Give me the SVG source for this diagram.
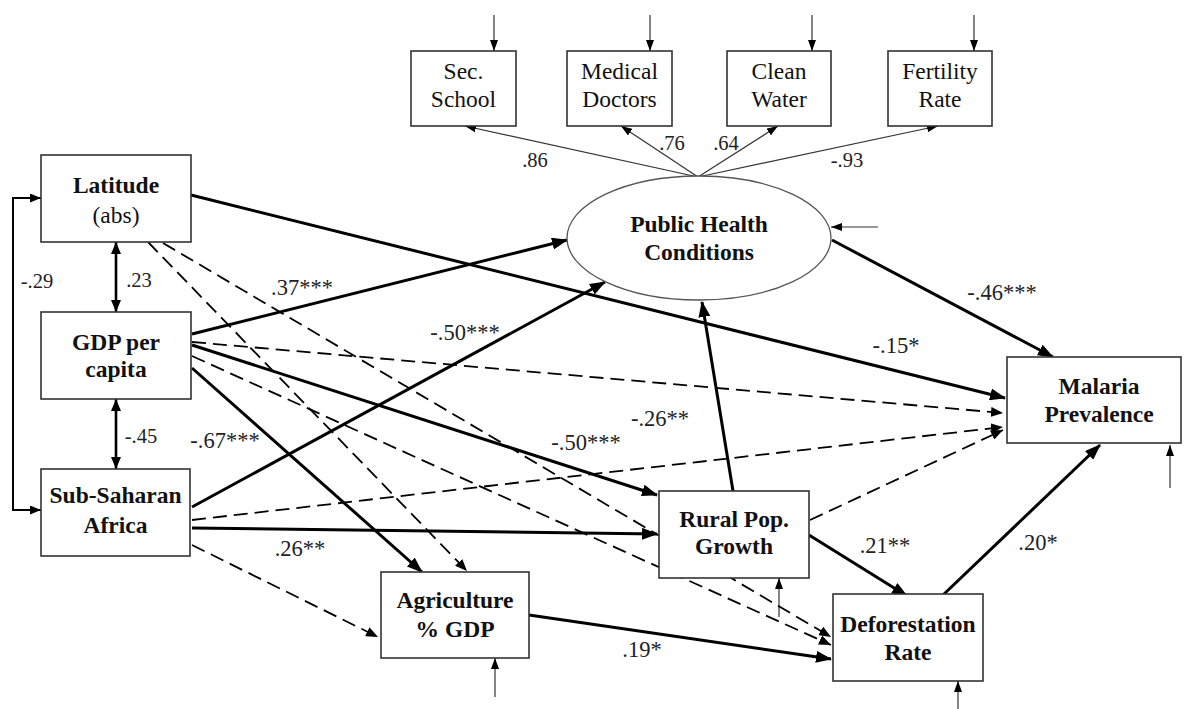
<svg xmlns="http://www.w3.org/2000/svg" width="1185" height="709" viewBox="0 0 1185 709">
<style>
.bg{fill:#fff}
.box{fill:#fff;stroke:#333;stroke-width:1.6}
.ell{fill:#fff;stroke:#555;stroke-width:1.3}
text{font-family:"Liberation Serif","Times New Roman",serif;fill:#111;text-anchor:middle}
.t{font-size:23.5px}
.b{font-weight:bold}
.p{font-size:22.5px;fill:#222}
.s{font-size:20.5px;fill:#222}
.thick{fill:none;stroke:#000;stroke-width:3;marker-end:url(#ah)}
.dash{fill:none;stroke:#000;stroke-width:1.8;stroke-dasharray:14 7;marker-end:url(#ad)}
.thin{fill:none;stroke:#333;stroke-width:1.2;marker-end:url(#at)}
.cor{fill:none;stroke:#000;stroke-width:2.6;marker-start:url(#ac);marker-end:url(#ac)}
.cor2{fill:none;stroke:#000;stroke-width:2;marker-start:url(#ac2);marker-end:url(#ac2)}
</style>
<defs>
<marker id="ah" markerUnits="userSpaceOnUse" markerWidth="16" markerHeight="12" refX="15" refY="6" orient="auto"><path d="M0,0 L16,6 L0,12 z" fill="#000"/></marker>
<marker id="ad" markerUnits="userSpaceOnUse" markerWidth="12" markerHeight="10" refX="12" refY="5" orient="auto"><path d="M0,0 L12,5 L0,10 z" fill="#000"/></marker>
<marker id="at" markerUnits="userSpaceOnUse" markerWidth="11" markerHeight="8" refX="11" refY="4" orient="auto"><path d="M0,0 L11,4 L0,8 z" fill="#000"/></marker>
<marker id="ac" markerUnits="userSpaceOnUse" markerWidth="12" markerHeight="10" refX="12" refY="5" orient="auto-start-reverse"><path d="M0,0 L12,5 L0,10 z" fill="#000"/></marker>
<marker id="ac2" markerUnits="userSpaceOnUse" markerWidth="11" markerHeight="9" refX="11" refY="4.5" orient="auto-start-reverse"><path d="M0,0 L11,4.5 L0,9 z" fill="#000"/></marker>
</defs>
<rect class="bg" x="0" y="0" width="1185" height="709"/>

<g id="connectors">
  <line class="thin" x1="698" y1="177" x2="465" y2="126"/>
  <line class="thin" x1="698" y1="177" x2="621" y2="126"/>
  <line class="thin" x1="698" y1="177" x2="778" y2="126"/>
  <line class="thin" x1="698" y1="177" x2="938" y2="126"/>
  <line class="thin" x1="494" y1="15" x2="494" y2="51"/>
  <line class="thin" x1="650" y1="15" x2="650" y2="51"/>
  <line class="thin" x1="812" y1="15" x2="812" y2="51"/>
  <line class="thin" x1="974" y1="15" x2="974" y2="51"/>
  <line class="thin" x1="878" y1="227" x2="831" y2="227"/>
  <line class="thin" x1="1170" y1="488" x2="1170" y2="445"/>
  <line class="thin" x1="779" y1="617" x2="779" y2="578"/>
  <line class="thin" x1="958" y1="709" x2="958" y2="681"/>
  <line class="thin" x1="495" y1="697" x2="495" y2="658"/>
  <line class="cor" x1="116" y1="242" x2="116" y2="312"/>
  <line class="cor" x1="116" y1="399" x2="116" y2="469"/>
  <polyline class="cor2" points="41,198 13,198 13,510 41,510"/>
  <line class="dash" x1="148" y1="242" x2="467" y2="571"/>
  <line class="dash" x1="163" y1="243" x2="831" y2="637"/>
  <line class="dash" x1="192" y1="342" x2="1003" y2="413"/>
  <line class="dash" x1="192" y1="356" x2="831" y2="645"/>
  <line class="dash" x1="192" y1="520" x2="1003" y2="427"/>
  <line class="dash" x1="192" y1="545" x2="378" y2="637"/>
  <line class="dash" x1="810" y1="520" x2="1003" y2="430"/>
  <line class="thick" x1="191" y1="195" x2="1005" y2="398"/>
  <line class="thick" x1="192" y1="334" x2="567" y2="240"/>
  <line class="thick" x1="192" y1="507" x2="605" y2="282"/>
  <line class="thick" x1="192" y1="345" x2="657" y2="495"/>
  <line class="thick" x1="192" y1="368" x2="422" y2="572"/>
  <line class="thick" x1="192" y1="528" x2="657" y2="534"/>
  <line class="thick" x1="733" y1="491" x2="702" y2="302"/>
  <line class="thick" x1="809" y1="535" x2="907" y2="596"/>
  <line class="thick" x1="529" y1="615" x2="831" y2="659"/>
  <line class="thick" x1="943" y1="595" x2="1100" y2="445"/>
  <line class="thick" x1="832" y1="240" x2="1053" y2="357"/>
  <text class="s" x="535" y="167">.86</text>
  <text class="s" x="672" y="150">.76</text>
  <text class="s" x="726" y="150">.64</text>
  <text class="s" x="847" y="167">-.93</text>
  <text class="s" x="139" y="287">.23</text>
  <text class="s" x="141" y="443">-.45</text>
  <text class="s" x="37" y="288">-.29</text>
  <text class="p" x="302" y="295">.37***</text>
  <text class="p" x="465" y="340">-.50***</text>
  <text class="p" x="586" y="450">-.50***</text>
  <text class="p" x="225" y="448">-.67***</text>
  <text class="p" x="896" y="353">-.15*</text>
  <text class="p" x="1002" y="300">-.46***</text>
  <text class="p" x="660" y="426">-.26**</text>
  <text class="p" x="300" y="556">.26**</text>
  <text class="p" x="885" y="553">.21**</text>
  <text class="p" x="642" y="657">.19*</text>
  <text class="p" x="1038" y="550">.20*</text>
</g>

<g id="sec-school">
  <rect class="box" x="411" y="51" width="105" height="75"/>
  <text class="t" x="463.5" y="79">Sec.</text>
  <text class="t" x="463.5" y="107">School</text>
</g>
<g id="medical-doctors">
  <rect class="box" x="567" y="51" width="105" height="75"/>
  <text class="t" x="619.5" y="79">Medical</text>
  <text class="t" x="619.5" y="107">Doctors</text>
</g>
<g id="clean-water">
  <rect class="box" x="727" y="51" width="104" height="75"/>
  <text class="t" x="779" y="79">Clean</text>
  <text class="t" x="779" y="107">Water</text>
</g>
<g id="fertility-rate">
  <rect class="box" x="888" y="51" width="104" height="75"/>
  <text class="t" x="940" y="79">Fertility</text>
  <text class="t" x="940" y="107">Rate</text>
</g>
<g id="public-health">
  <ellipse class="ell" cx="699" cy="238" rx="132" ry="62"/>
  <text class="t b" x="699" y="232">Public Health</text>
  <text class="t b" x="699" y="260">Conditions</text>
</g>
<g id="latitude">
  <rect class="box" x="41" y="155" width="150" height="87"/>
  <text class="t b" x="116" y="193">Latitude</text>
  <text class="t" x="116" y="223">(abs)</text>
</g>
<g id="gdp">
  <rect class="box" x="41" y="312" width="150" height="87"/>
  <text class="t b" x="116" y="350">GDP per</text>
  <text class="t b" x="116" y="377">capita</text>
</g>
<g id="ssa">
  <rect class="box" x="41" y="469" width="149" height="87"/>
  <text class="t b" x="115.5" y="503">Sub-Saharan</text>
  <text class="t b" x="115.5" y="533">Africa</text>
</g>
<g id="agriculture">
  <rect class="box" x="381" y="572" width="148" height="86"/>
  <text class="t b" x="455" y="608">Agriculture</text>
  <text class="t b" x="455" y="637">% GDP</text>
</g>
<g id="rural">
  <rect class="box" x="659" y="491" width="150" height="87"/>
  <text class="t b" x="734" y="527">Rural Pop.</text>
  <text class="t b" x="734" y="554">Growth</text>
</g>
<g id="deforestation">
  <rect class="box" x="833" y="594" width="150" height="87"/>
  <text class="t b" x="908" y="632">Deforestation</text>
  <text class="t b" x="908" y="660">Rate</text>
</g>
<g id="malaria">
  <rect class="box" x="1007" y="357" width="174" height="86"/>
  <text class="t b" x="1099" y="394">Malaria</text>
  <text class="t b" x="1099" y="422">Prevalence</text>
</g>
</svg>
